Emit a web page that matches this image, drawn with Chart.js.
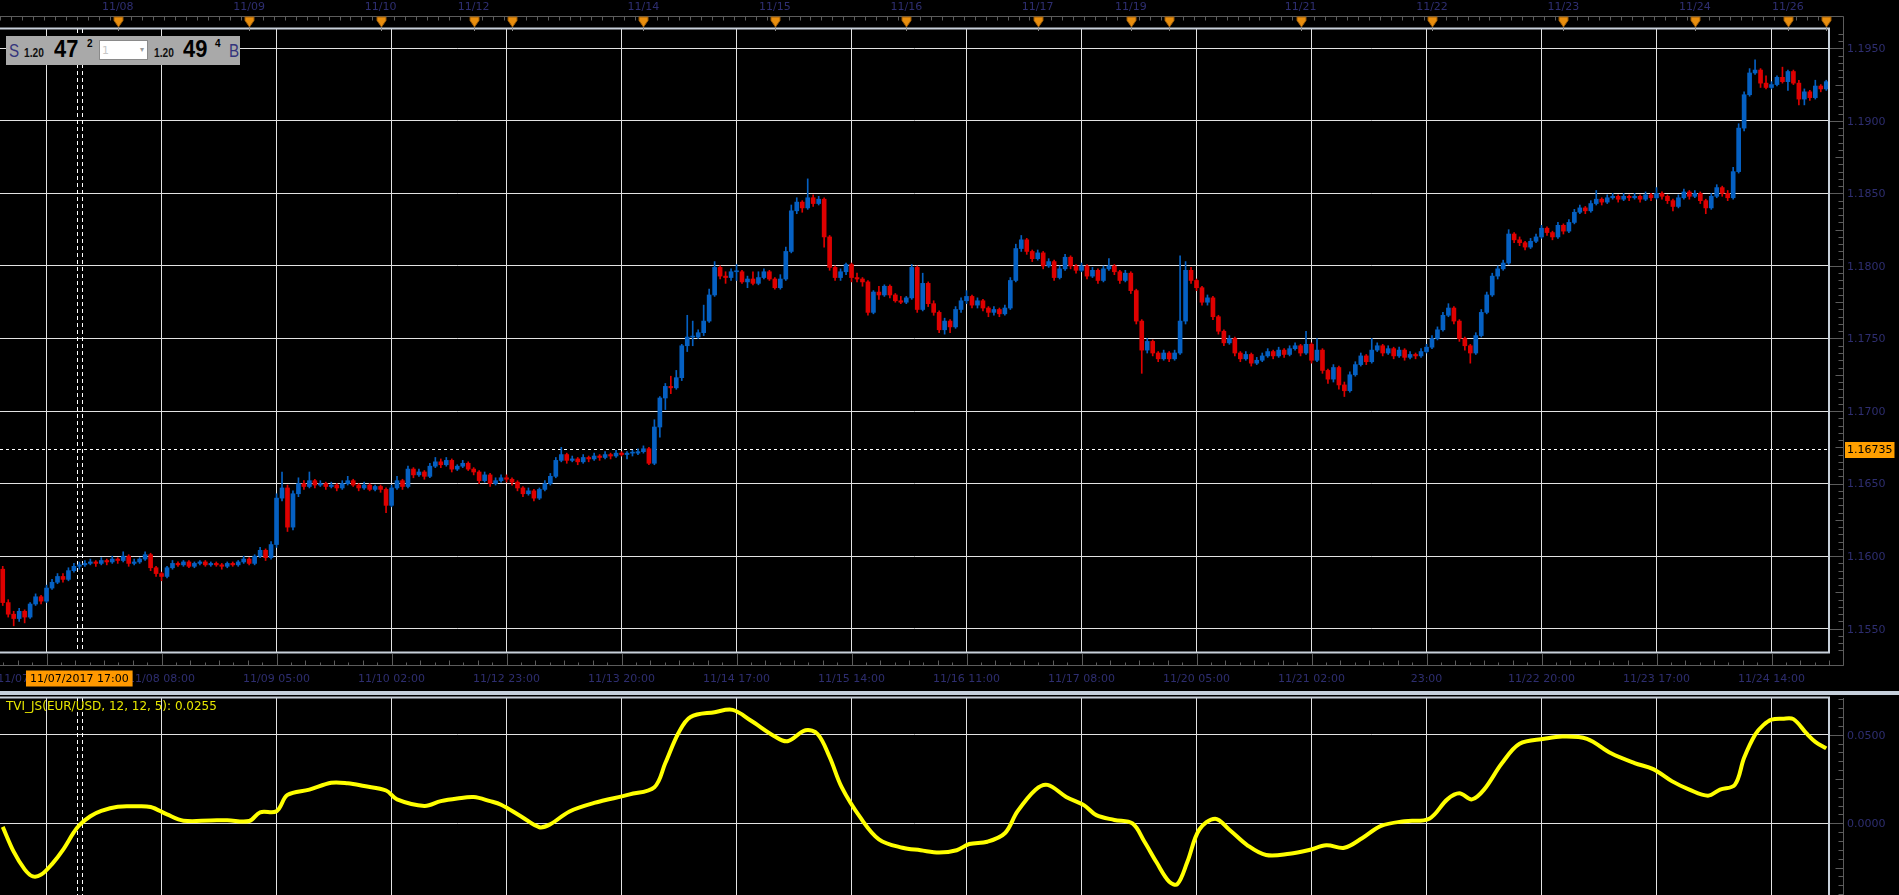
<!DOCTYPE html>
<html>
<head>
<meta charset="utf-8">
<title>EUR/USD H1 with TVI_JS</title>
<script src="https://cdn.jsdelivr.net/npm/chart.js@4.4.1/dist/chart.umd.min.js"></script>
<style>
  html, body { margin: 0; padding: 0; background: #000; overflow: hidden; }
  body { width: 1899px; height: 895px; position: relative; font-family: "DejaVu Sans", sans-serif; }
  #priceWrap { position: absolute; left: 0; top: 0; width: 1899px; height: 690px; }
  #tviWrap { position: absolute; left: 0; top: 695px; width: 1899px; height: 200px; }
  #sep { position: absolute; left: 0; top: 691px; width: 1899px; height: 4px; background: #c6d0dc; }
  #tviLabel { position: absolute; left: 6px; top: 699px; color: #e6e600; font: 12px "DejaVu Sans", sans-serif; white-space: nowrap; }

  #quote { position: absolute; left: 6px; top: 36px; width: 234px; height: 29px; background: #a9a9a9; z-index: 2; }
  .q { position: absolute; line-height: 1; white-space: nowrap; font-family: "Liberation Sans", Arial, sans-serif; transform-origin: left top; }
  .side { top: 5px; font-size: 19px; color: #34347c; transform: scaleX(0.8); }
  .pre { top: 11px; font-size: 12px; font-weight: bold; color: #111; transform: scaleX(0.85); }
  .big { top: 2px; font-size: 23px; font-weight: bold; color: #000; transform: scaleX(0.95); }
  .sup { top: 3px; font-size: 10px; font-weight: bold; color: #000; }
  #qty { position: absolute; left: 93px; top: 4px; width: 49px; height: 20px; background: #fff; border: 1px solid #8a8a8a; box-sizing: border-box; }
  #qty span { position: absolute; left: 2px; top: 3px; font: 11px "DejaVu Sans", sans-serif; color: #c8c8c8; }
  #qty i { position: absolute; right: 3px; top: 4px; font-style: normal; font-size: 8px; color: #9a9a9a; }
</style>
</head>
<body>
<div id="priceWrap"><canvas id="priceChart" width="1899" height="690"></canvas></div>
<div id="sep"></div>
<div id="tviWrap"><canvas id="tviChart" width="1899" height="200"></canvas></div>
<div id="tviLabel">TVI_JS(EUR/USD, 12, 12, 5): 0.0255</div>

<div id="quote">
  <span class="q side" style="left:3px">S</span>
  <span class="q pre" style="left:18px">1.20</span>
  <span class="q big" style="left:48px">47</span>
  <span class="q sup" style="left:81px">2</span>
  <div id="qty"><span>1</span><i>&#9662;</i></div>
  <span class="q pre" style="left:148px">1.20</span>
  <span class="q big" style="left:177px">49</span>
  <span class="q sup" style="left:209px">4</span>
  <span class="q side" style="left:223px">B</span>
</div>

<script>
// ---- data -----------------------------------------------------------------
// hourly EUR/USD candles, New York time, weekends skipped (Fri 17:00 -> Sun 17:00)
const sessions = [
  ['2017-11-07T03:00', 86],
  ['2017-11-12T17:00', 120],
  ['2017-11-19T17:00', 120],
  ['2017-11-26T17:00', 8]
];

// prices in pips above PIP_BASE
const PIP_BASE = 1.15;
const firstOpenPips = 91;
const closePips = [
  68,60,57,62,58,67,72,69,78,82, 86,84,90,93,94,95,96,95,97,96,
  98,97,100,95,96,98,101,92,88,86, 92,95,94,96,93,95,96,94,95,94,
  93,95,94,96,98,95,100,104,99,108, 140,147,120,143,150,148,152,149,150,148,
  149,147,150,152,149,147,149,146,148,146, 135,147,152,148,160,156,158,155,162,165,
  163,166,160,162,164,160,158,152,156,150, 152,154,153,151,147,143,145,140,146,150,
  155,166,170,166,167,165,168,167,169,168, 170,169,171,170,171,171,172,174,164,189,
  209,217,216,223,245,251,251,254,262,280, 299,293,292,296,296,289,291,288,292,296,
  291,285,291,310,338,344,340,347,343,346, 320,299,292,296,301,292,291,289,268,282,
  280,286,280,276,275,278,299,270,288,274, 268,256,262,258,270,276,279,273,276,271,
  268,270,267,271,290,312,318,310,305,309, 300,303,292,298,306,300,297,300,293,297,
  290,298,300,296,290,295,283,262,242,248, 240,236,240,236,240,262,297,290,285,275,
  278,265,255,247,250,240,236,239,233,235, 238,241,238,242,239,243,245,240,246,235,
  242,228,222,230,218,214,225,232,238,234, 242,245,240,243,238,242,237,239,238,241,
  244,250,256,266,271,262,250,245,240,252, 268,280,293,298,302,322,318,316,313,317,
  320,326,323,320,328,324,330,337,340,338, 343,346,344,347,348,346,348,347,348,346,
  349,347,350,348,345,341,347,351,348,350, 345,340,348,354,350,347,365,395,418,433,
  435,426,423,425,430,427,434,426,415,420, 416,424,422,427
];
const highPips = [
  93,70,62,64,63,68,74,73,80,84, 88,88,92,95,96,97,98,97,99,98,
  100,99,103,101,98,99,103,102,93,89, 93,97,96,97,97,96,97,97,96,96,
  95,96,96,97,100,99,101,106,105,110, 143,158,149,145,154,152,158,153,152,151,
  151,150,152,155,153,150,151,150,149,149, 147,149,155,153,162,161,160,159,164,168,
  167,168,167,163,166,165,161,159,158,157, 154,156,156,154,152,148,147,146,147,152,
  157,168,175,171,169,168,170,169,171,170, 172,171,173,172,172,173,174,176,175,194,
  210,219,224,228,246,266,262,256,273,284, 303,300,296,298,301,297,293,296,296,298,
  297,292,294,313,342,347,345,360,349,348, 347,321,300,298,302,302,295,292,290,283,
  286,287,287,281,279,279,301,300,295,289, 276,269,264,263,272,278,283,280,278,277,
  272,272,271,273,292,315,321,319,311,311, 310,305,304,300,308,307,301,302,301,299,
  298,300,305,301,297,297,296,284,263,250, 249,241,242,241,242,307,303,299,291,286,
  280,279,266,256,252,251,241,241,240,237, 240,243,242,244,243,245,247,246,255,247,
  250,243,229,232,231,220,227,234,240,239, 250,247,246,245,244,244,243,241,240,243,
  246,252,258,268,274,272,263,251,246,254, 270,282,295,300,304,325,323,320,317,319,
  322,328,327,324,330,329,332,339,342,341, 345,352,347,349,350,349,350,349,350,349,
  351,350,354,351,349,346,349,353,352,352, 351,346,350,356,355,352,368,398,420,436,
  442,436,431,427,431,437,435,435,428,422, 421,428,425,428
];
const lowPips = [
  66,58,52,55,54,57,66,67,68,77, 81,82,83,89,91,93,94,93,94,94,
  95,95,96,93,94,95,97,90,86,83, 85,91,93,93,92,92,94,93,93,93,
  91,92,93,93,95,94,94,99,97,98, 106,138,117,118,141,146,147,147,148,146,
  147,145,146,149,148,145,146,145,145,144, 130,134,146,146,147,154,155,153,154,161,
  161,162,158,159,161,159,156,150,151,148, 149,151,151,149,145,141,142,138,139,145,
  149,154,165,164,165,163,164,165,166,166, 167,167,168,169,167,169,170,171,163,163,
  182,201,212,215,221,241,245,250,252,261, 279,291,288,290,290,288,285,287,287,291,
  290,284,284,290,309,336,337,339,341,342, 313,297,290,290,294,289,289,286,266,267,
  277,279,278,275,274,274,277,268,269,272, 266,254,253,254,257,268,274,271,271,269,
  265,266,265,266,270,289,310,308,303,304, 298,299,290,291,297,298,295,296,291,292,
  288,289,297,294,288,289,281,260,226,240, 238,234,235,234,235,239,260,288,283,273,
  273,263,253,245,246,238,234,235,231,232, 234,237,236,237,237,238,242,238,239,233,
  234,226,219,220,215,210,213,224,231,232, 233,241,238,239,236,237,235,236,236,237,
  240,243,249,255,265,260,248,242,233,239, 251,267,279,291,297,301,316,314,311,312,
  316,319,321,318,319,322,323,329,336,336, 337,342,342,343,346,344,345,345,346,344,
  345,345,346,346,343,338,340,346,346,347, 343,336,339,347,348,345,346,364,393,417,
  432,423,422,422,424,426,421,425,411,411, 414,415,420,421
];

// TVI indicator, read at candle positions
const tviIdx = [0,2,4,5.5,7,9,11,13,14,16,18,21,24,27,30,33,38,41,45,47,50,52,56,60,63,66,70,72,77,80,83,86,89,91,
  94.6,98,100,103.5,108,114.5,119,121,123.4,125.6,130,133.3,136.6,141,143.3,146.6,148.8,151,153.2,156.6,160,
  164.3,167.6,171,174.2,176.5,179.8,183,185.3,188.6,190.8,194.2,197.5,199.7,203,206.3,208.5,210.7,213,214.5,
  216.3,218.5,221.4,224,227.3,230.7,235,238.4,241.7,245,248.3,251.7,256,260.5,263.8,266,268.3,270.5,273.8,
  277,281.5,284.8,289.3,293.7,298,301.4,304.8,308,311.4,313.6,316.3,318,320,321.5,323,325,327,329.4,331,333];
const tviVals = [-0.002,-0.016,-0.026,-0.030,-0.029,-0.023,-0.015,-0.005,-0.001,0.004,0.007,0.0094,0.0096,0.0092,
  0.005,0.0015,0.0016,0.0017,0.0013,0.0062,0.0068,0.016,0.019,0.0229,0.0226,0.021,0.0185,0.0135,0.0098,0.0125,
  0.014,0.0148,0.0125,0.0105,
  0.004,-0.0022,-0.0005,0.0067,0.0115,0.0163,0.0204,0.034,0.051,0.060,0.0627,0.064,0.058,0.049,0.0463,0.0525,
  0.0504,0.0374,0.0204,0.0033,-0.009,
  -0.0138,-0.0152,-0.0165,-0.0152,-0.0117,-0.0104,-0.0056,0.0067,0.019,0.0217,0.0149,0.0101,0.0046,0.0019,
  -0.0001,-0.0104,-0.022,-0.0329,-0.0343,
  -0.022,-0.0036,0.0026,-0.0036,-0.0124,-0.0179,-0.0172,-0.0152,-0.0124,-0.0138,-0.0083,-0.0015,0.0012,0.0026,
  0.0135,0.0169,0.0135,0.019,0.034,
  0.0449,0.0477,0.049,0.0477,0.0395,0.034,0.0306,0.0238,0.019,0.0156,0.019,0.0217,0.037,0.050,0.0554,0.0585,
  0.059,0.0588,0.0507,0.046,0.0423];

const priceTicks = [1.1550, 1.1600, 1.1650, 1.1700, 1.1750, 1.1800, 1.1850, 1.1900, 1.1950];
const tviTicks = [0.0000, 0.0500];
const tickKeys = ['11/07 11:00','11/08 08:00','11/09 05:00','11/10 02:00','11/12 23:00','11/13 20:00',
  '11/14 17:00','11/15 14:00','11/16 11:00','11/17 08:00','11/20 05:00','11/21 02:00','11/21 23:00',
  '11/22 20:00','11/23 17:00','11/24 14:00'];
const tickText = ['11/07/2017 11:00','11/08 08:00','11/09 05:00','11/10 02:00','11/12 23:00','11/13 20:00',
  '11/14 17:00','11/15 14:00','11/16 11:00','11/17 08:00','11/20 05:00','11/21 02:00','23:00',
  '11/22 20:00','11/23 17:00','11/24 14:00'];
const dayLabels = ['11/08','11/09','11/10','11/12','11/14','11/15','11/16','11/17','11/19','11/21','11/22','11/23','11/24','11/26'];
const crossKey = '11/07 17:00';
const crossText = '11/07/2017 17:00';
const lastPrice = 1.16735;

// ---- build ----------------------------------------------------------------
const pad = n => String(n).padStart(2, '0');
const categories = [];
sessions.forEach(([start, n]) => {
  const t0 = Date.parse(start + ':00Z');
  for (let h = 0; h < n; h++) {
    const d = new Date(t0 + h * 3600e3);
    categories.push(pad(d.getUTCMonth() + 1) + '/' + pad(d.getUTCDate()) + ' ' + pad(d.getUTCHours()) + ':00');
  }
});
const dateOf = i => categories[i].slice(0, 5);
const dayIdx = [];
for (let i = 1; i < categories.length; i++) if (dateOf(i) !== dateOf(i - 1)) dayIdx.push(i);
const gridIdx = tickKeys.map(k => categories.indexOf(k));
const crossIdx = categories.indexOf(crossKey);

const toPrice = p => +(PIP_BASE + p / 10000).toFixed(5);
const closes = closePips.map(toPrice);
const highs = highPips.map(toPrice);
const lows = lowPips.map(toPrice);
// an hourly FX candle opens at the previous close
const opens = [toPrice(firstOpenPips), ...closes.slice(0, -1)];

const UP = '#0560c2', DOWN = '#de0000';
const candleColors = closes.map((c, i) => (c >= opens[i] ? UP : DOWN));

const GRID = '#e2e2e2', FRAME = '#c8d0da', AXIS = '#5c5c5c', TEXT = '#2e2e70';
const FONT = '11px "DejaVu Sans"';

Chart.defaults.font.family = '"DejaVu Sans", sans-serif';
Chart.defaults.font.size = 11;

function crossLines(ctx, x, top, bottom) {
  const step = x.getPixelForValue(1) - x.getPixelForValue(0);
  const cx = x.getPixelForValue(crossIdx);
  ctx.save();
  ctx.strokeStyle = '#ffffff';
  ctx.lineWidth = 1;
  ctx.setLineDash([4, 3]);
  ctx.beginPath();
  [cx - step / 2, cx + step / 2].forEach(px => {
    const p = Math.round(px) + 0.5;
    ctx.moveTo(p, top); ctx.lineTo(p, bottom);
  });
  ctx.stroke();
  ctx.restore();
}

// ---- price panel ----------------------------------------------------------
const priceDecor = {
  id: 'priceDecor',
  beforeDatasetsDraw(chart) {
    const { ctx, chartArea: a, scales: { x, y } } = chart;
    ctx.save();
    ctx.strokeStyle = '#ffffff';
    ctx.lineWidth = 1;
    ctx.setLineDash([3, 3]);
    const py = Math.round(y.getPixelForValue(lastPrice)) + 0.5;
    ctx.beginPath(); ctx.moveTo(a.left, py); ctx.lineTo(a.right, py); ctx.stroke();
    ctx.restore();
    crossLines(ctx, x, a.top, a.bottom);
  },
  afterDraw(chart) {
    const { ctx, chartArea: a, scales: { x, y } } = chart;
    const ax = a.right + 14.5;
    const yb = a.bottom + 12.5;
    ctx.save();

    ctx.strokeStyle = FRAME;
    ctx.lineWidth = 2;
    ctx.strokeRect(-5, a.top - 0.5, a.right + 5, a.bottom - a.top);

    ctx.strokeStyle = AXIS;
    ctx.lineWidth = 1;
    ctx.beginPath();
    ctx.moveTo(0, 16.5); ctx.lineTo(ax, 16.5);
    ctx.moveTo(ax, 16.5); ctx.lineTo(ax, yb);
    ctx.moveTo(0, yb); ctx.lineTo(ax, yb);
    // price ticks every 5 pips
    for (let k = Math.ceil(y.min * 2000); k <= Math.floor(y.max * 2000); k++) {
      const py = Math.round(y.getPixelForValue(k / 2000)) + 0.5;
      const len = k % 10 === 0 ? ax - a.right - 1 : (k % 5 === 0 ? 8 : 5);
      ctx.moveTo(ax - len, py); ctx.lineTo(ax, py);
    }
    // time ticks, 8 per grid step
    const g0 = x.getPixelForValue(gridIdx[0]);
    const sub = (x.getPixelForValue(gridIdx[1]) - g0) / 8;
    for (let m = -Math.floor(g0 / sub); g0 + m * sub <= ax; m++) {
      const px = Math.round(g0 + m * sub) + 0.5;
      const r = Math.abs(m % 8);
      const len = r === 0 ? yb - a.bottom - 1 : (r % 2 === 0 ? 5 : 3);
      ctx.moveTo(px, yb - len); ctx.lineTo(px, yb);
    }
    // top ticks
    for (let i = 0; i < categories.length; i += 2) {
      const px = Math.round(x.getPixelForValue(i) - (x.getPixelForValue(1) - x.getPixelForValue(0)) / 2) + 0.5;
      ctx.moveTo(px, 16.5); ctx.lineTo(px, 20.5);
    }
    ctx.stroke();

    // day markers
    dayIdx.forEach(i => {
      const px = Math.round(x.getPixelForValue(i)) + 0.5;
      ctx.strokeStyle = '#8c8c8c';
      ctx.beginPath(); ctx.moveTo(px, 26); ctx.lineTo(px, a.top + 2); ctx.stroke();
      ctx.fillStyle = '#e88e0e';
      ctx.strokeStyle = '#9a5a06';
      ctx.beginPath();
      ctx.moveTo(px - 4.5, 17); ctx.lineTo(px + 4.5, 17); ctx.lineTo(px + 4.5, 20.5);
      ctx.lineTo(px, 27); ctx.lineTo(px - 4.5, 20.5); ctx.closePath();
      ctx.fill(); ctx.stroke();
    });

    ctx.font = FONT;
    ctx.fillStyle = TEXT;
    ctx.textBaseline = 'middle';
    ctx.textAlign = 'center';
    dayIdx.forEach(i => {
      if (dayLabels.includes(dateOf(i))) ctx.fillText(dateOf(i), x.getPixelForValue(i), 7.5);
    });
    gridIdx.forEach((i, k) => ctx.fillText(tickText[k], x.getPixelForValue(i), yb + 14));
    ctx.textAlign = 'left';
    priceTicks.forEach(v => ctx.fillText(v.toFixed(4), ax + 3.5, y.getPixelForValue(v) + 1));

    // current price tag
    const py = y.getPixelForValue(lastPrice);
    const tw = ctx.measureText(lastPrice.toFixed(5)).width;
    ctx.fillStyle = '#ff9f00';
    ctx.fillRect(ax + 1.5, Math.round(py) - 7, tw + 4, 16);
    ctx.fillStyle = '#000';
    ctx.fillText(lastPrice.toFixed(5), ax + 3.5, py + 1);

    // crosshair time tag
    const cx = x.getPixelForValue(crossIdx);
    const cw = ctx.measureText(crossText).width + 8;
    ctx.fillStyle = '#ff9900';
    ctx.fillRect(Math.round(cx - cw / 2), yb + 5, cw, 16);
    ctx.fillStyle = '#000';
    ctx.textAlign = 'center';
    ctx.fillText(crossText, cx, yb + 13.5);
    ctx.restore();
  }
};

new Chart(document.getElementById('priceChart'), {
  type: 'bar',
  data: {
    labels: categories,
    datasets: [
      {
        label: 'body',
        data: closes.map((c, i) => [opens[i], c]),
        backgroundColor: candleColors,
        barThickness: 4,
        minBarLength: 1,
        grouped: false
      },
      {
        label: 'wick',
        data: closes.map((c, i) => [lows[i], highs[i]]),
        backgroundColor: candleColors,
        barThickness: 1,
        grouped: false
      }
    ]
  },
  options: {
    responsive: false,
    animation: false,
    devicePixelRatio: 1,
    layout: { padding: { top: 29, left: 0, right: 0, bottom: 0 } },
    plugins: { legend: { display: false }, tooltip: { enabled: false } },
    scales: {
      x: {
        type: 'category',
        offset: true,
        grid: { color: GRID, lineWidth: 1, offset: false, drawTicks: false },
        border: { display: false },
        ticks: { display: false },
        afterBuildTicks: s => { s.ticks = gridIdx.map(v => ({ value: v })); },
        afterFit: s => { s.height = 37; }
      },
      y: {
        position: 'right',
        min: 1.153325,
        max: 1.19633,
        grid: { color: GRID, lineWidth: 1, drawTicks: false },
        border: { display: false },
        ticks: { display: false },
        afterBuildTicks: s => { s.ticks = priceTicks.map(v => ({ value: v })); },
        afterFit: s => { s.width = 70; }
      }
    }
  },
  plugins: [priceDecor]
});

// ---- TVI panel ------------------------------------------------------------
const tviDecor = {
  id: 'tviDecor',
  beforeDatasetsDraw(chart) {
    const { ctx, chartArea: a, scales: { x } } = chart;
    crossLines(ctx, x, a.top, a.bottom);
  },
  afterDraw(chart) {
    const { ctx, chartArea: a, scales: { y } } = chart;
    const ax = a.right + 14.5;
    ctx.save();
    ctx.strokeStyle = FRAME;
    ctx.lineWidth = 2;
    ctx.strokeRect(-5, a.top - 0.5, a.right + 5, a.bottom - a.top + 10);
    ctx.strokeStyle = AXIS;
    ctx.lineWidth = 1;
    ctx.beginPath();
    ctx.moveTo(ax, a.top); ctx.lineTo(ax, a.bottom);
    for (let k = Math.ceil(y.min * 200); k <= Math.floor(y.max * 200); k++) {
      const py = Math.round(y.getPixelForValue(k / 200)) + 0.5;
      const len = k % 10 === 0 ? ax - a.right - 1 : (k % 5 === 0 ? 8 : 5);
      ctx.moveTo(ax - len, py); ctx.lineTo(ax, py);
    }
    ctx.stroke();
    ctx.font = FONT;
    ctx.fillStyle = TEXT;
    ctx.textBaseline = 'middle';
    ctx.textAlign = 'left';
    tviTicks.forEach(v => ctx.fillText(v.toFixed(4), ax + 3.5, y.getPixelForValue(v) + 1));
    ctx.restore();
  }
};

new Chart(document.getElementById('tviChart'), {
  type: 'line',
  data: {
    datasets: [{
      label: 'TVI_JS',
      data: tviIdx.map((v, i) => ({ x: v, y: tviVals[i] })),
      borderColor: '#ffff00',
      borderWidth: 4,
      pointRadius: 0,
      tension: 0.35,
      fill: false
    }]
  },
  options: {
    responsive: false,
    animation: false,
    devicePixelRatio: 1,
    layout: { padding: { top: 3, left: 0, right: 0, bottom: 0 } },
    plugins: { legend: { display: false }, tooltip: { enabled: false } },
    scales: {
      x: {
        type: 'linear',
        min: -0.5,
        max: categories.length - 0.5,
        grid: { color: GRID, lineWidth: 1, drawTicks: false },
        border: { display: false },
        ticks: { display: false },
        afterBuildTicks: s => { s.ticks = gridIdx.map(v => ({ value: v })); },
        afterFit: s => { s.height = 0; }
      },
      y: {
        position: 'right',
        min: -0.04046,
        max: 0.07071,
        grid: { color: GRID, lineWidth: 1, drawTicks: false },
        border: { display: false },
        ticks: { display: false },
        afterBuildTicks: s => { s.ticks = tviTicks.map(v => ({ value: v })); },
        afterFit: s => { s.width = 70; }
      }
    }
  },
  plugins: [tviDecor]
});
</script>
</body>
</html>
